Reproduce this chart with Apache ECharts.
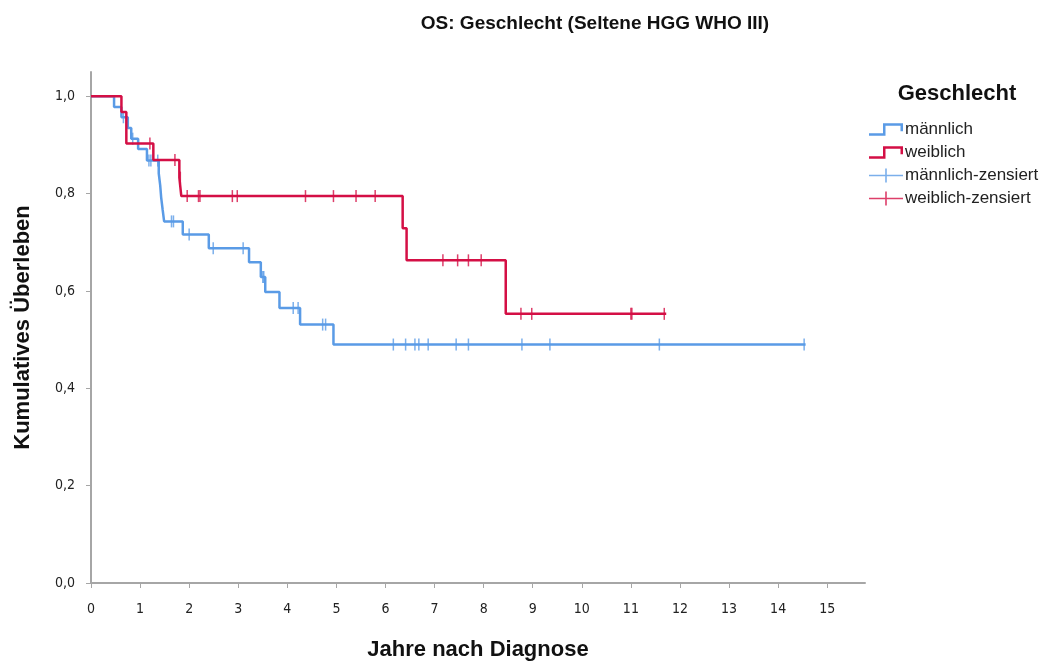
<!DOCTYPE html>
<html>
<head>
<meta charset="utf-8">
<script src="https://cdn.jsdelivr.net/npm/echarts@6/dist/echarts.min.js"></script>
<style>
  html, body { margin: 0; padding: 0; background: #fff; }
  #chart { width: 1051px; height: 661px; }
</style>
</head>
<body>
<div id="chart"></div>
<script>
// Kaplan-Meier Stufen: [Jahre, kumulatives Überleben]
const maleSteps = [
  [0, 1], [0.47, 0.978], [0.62, 0.957], [0.75, 0.935], [0.82, 0.913], [0.96, 0.892],
  [1.14, 0.868], [1.38, 0.842], [1.41, 0.817], [1.43, 0.792], [1.46, 0.767], [1.49, 0.743],
  [1.87, 0.716], [2.40, 0.688], [3.22, 0.659], [3.46, 0.629], [3.55, 0.598], [3.84, 0.565],
  [4.26, 0.531], [4.94, 0.49], [14.56, 0.49]
];
const femaleSteps = [
  [0, 1], [0.62, 0.968], [0.72, 0.903], [1.27, 0.869], [1.80, 0.833], [1.84, 0.795],
  [6.35, 0.729], [6.43, 0.663], [8.45, 0.553], [11.72, 0.553]
];
// zensierte Zeitpunkte (Jahre)
const maleCensored = [
  0.66, 0.85, 1.18, 1.22, 1.36, 1.64, 1.68, 2.0, 2.49, 3.10, 3.50, 3.52, 4.12, 4.22,
  4.72, 4.78, 6.16, 6.41, 6.60, 6.68, 6.87, 7.44, 7.69, 8.78, 9.35, 11.58, 14.53
];
const femaleCensored = [
  1.20, 1.71, 1.82, 1.96, 2.19, 2.22, 2.88, 2.98, 4.37, 4.94, 5.40, 5.79,
  7.17, 7.47, 7.69, 7.95, 8.76, 8.98, 11.0, 11.02, 11.68
];
const xTicks = [0, 1, 2, 3, 4, 5, 6, 7, 8, 9, 10, 11, 12, 13, 14, 15];
const yTicks = [0, 0.2, 0.4, 0.6, 0.8, 1.0];

const blue = '#5a9be6';
const red = '#d40f45';
const font = "'Liberation Sans', Arial, sans-serif";
const narrow = "'Liberation Sans Narrow', 'DejaVu Sans Condensed', sans-serif";

// Überlebenswert an einer Zeit aus den Stufen ablesen
function survivalAt(steps, t) {
  let s = steps[0][1];
  for (const [x, y] of steps) {
    if (x <= t) s = y; else break;
  }
  return s;
}

const censorMark = 'path://M0,0H1V10H0Z';
const stepIcon = 'path://M0,11H14V1H34V9H31.5V3.5H16.5V13.5H0Z';
const plusIcon = 'path://M0,6.3H16.2V0H17.8V6.3H34V7.7H17.8V14H16.2V7.7H0Z';

const chart = echarts.init(document.getElementById('chart'), null, { renderer: 'canvas' });

chart.setOption({
  backgroundColor: '#fff',
  animation: false,
  title: [
    {
      text: 'OS: Geschlecht (Seltene HGG WHO III)',
      left: 590, top: 9, textAlign: 'center',
      textStyle: { fontFamily: font, fontSize: 19, fontWeight: 'bold', color: '#111' }
    },
    {
      text: 'Geschlecht',
      left: 952, top: 78, textAlign: 'center',
      textStyle: { fontFamily: font, fontSize: 22, fontWeight: 'bold', color: '#111' }
    }
  ],
  legend: {
    orient: 'vertical',
    left: 864, top: 116,
    itemWidth: 34, itemHeight: 14, itemGap: 6,
    textStyle: { fontFamily: font, fontSize: 17, color: '#222', padding: [0, 0, 0, -3] },
    data: [
      { name: 'männlich', icon: stepIcon },
      { name: 'weiblich', icon: stepIcon },
      { name: 'männlich-zensiert', icon: plusIcon },
      { name: 'weiblich-zensiert', icon: plusIcon }
    ]
  },
  grid: {
    left: 91, right: 186, top: 72, bottom: 78,
    containLabel: false, outerBoundsMode: 'none'
  },
  xAxis: {
    type: 'value', min: 0, max: 15.77,
    name: 'Jahre nach Diagnose', nameLocation: 'middle', nameGap: 56,
    nameTextStyle: { fontFamily: font, fontSize: 22, fontWeight: 'bold', color: '#111' },
    axisLine: { lineStyle: { color: '#a6a6a6', width: 2 } },
    axisTick: { customValues: xTicks, length: 5, lineStyle: { color: '#a6a6a6' } },
    axisLabel: { customValues: xTicks, fontFamily: narrow, fontSize: 14, color: '#222', margin: 19 },
    splitLine: { show: false }
  },
  yAxis: {
    type: 'value', min: 0, max: 1.05,
    name: 'Kumulatives Überleben', nameLocation: 'middle', nameGap: 57,
    nameTextStyle: { fontFamily: font, fontSize: 22, fontWeight: 'bold', color: '#111' },
    axisLine: { show: true, lineStyle: { color: '#a6a6a6', width: 2 } },
    axisTick: { show: true, customValues: yTicks, length: 5, lineStyle: { color: '#a6a6a6' } },
    axisLabel: {
      customValues: yTicks, fontFamily: narrow, fontSize: 14, color: '#222', margin: 16,
      formatter: v => v.toFixed(1).replace('.', ',')
    },
    splitLine: { show: false }
  },
  series: [
    {
      name: 'männlich', type: 'line', step: 'end', data: maleSteps,
      showSymbol: false, color: blue,
      lineStyle: { color: blue, width: 2.5 }, z: 2
    },
    {
      name: 'männlich-zensiert', type: 'scatter', color: blue,
      data: maleCensored.map(t => [t, survivalAt(maleSteps, t)]),
      symbol: censorMark, symbolSize: [1.5, 12], symbolKeepAspect: false,
      itemStyle: { color: blue }, z: 3
    },
    {
      name: 'weiblich', type: 'line', step: 'end', data: femaleSteps,
      showSymbol: false, color: red,
      lineStyle: { color: red, width: 2.5 }, z: 4
    },
    {
      name: 'weiblich-zensiert', type: 'scatter', color: red,
      data: femaleCensored.map(t => [t, survivalAt(femaleSteps, t)]),
      symbol: censorMark, symbolSize: [1.5, 12], symbolKeepAspect: false,
      itemStyle: { color: red }, z: 5
    }
  ]
});
</script>
</body>
</html>
